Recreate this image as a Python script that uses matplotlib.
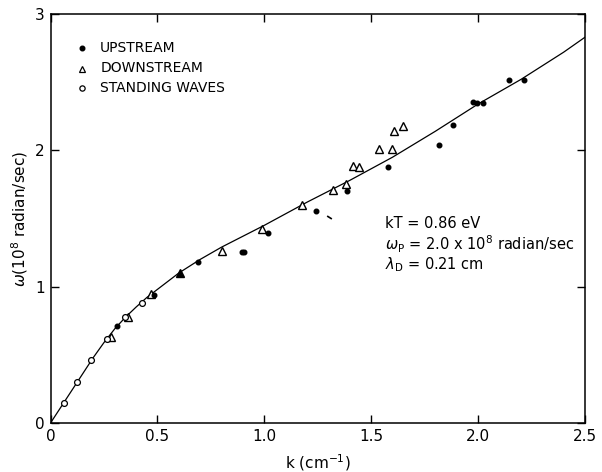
import matplotlib
matplotlib.use("Agg")
import matplotlib.pyplot as plt

# upstream (filled dots)
k_up = [0.312, 0.484, 0.688, 0.895, 0.907, 1.018, 1.244, 1.387, 1.580,
        1.817, 1.881, 1.976, 1.994, 2.022, 2.144, 2.214]
w_up = [0.708, 0.940, 1.180, 1.253, 1.253, 1.394, 1.555, 1.702, 1.875,
        2.040, 2.188, 2.354, 2.349, 2.349, 2.518, 2.518]

# downstream (open triangles)
k_down = [0.281, 0.364, 0.470, 0.803, 0.987, 1.174, 1.319, 1.381, 1.415,
          1.442, 1.538, 1.599, 1.607, 1.647]
w_down = [0.628, 0.779, 0.945, 1.260, 1.420, 1.602, 1.712, 1.751, 1.885,
          1.878, 2.012, 2.007, 2.139, 2.178]

# upstream and downstream on top of each other
k_both = [0.605]
w_both = [1.097]

# standing waves (open circles)
k_sw = [0.062, 0.125, 0.190, 0.263, 0.347, 0.426]
w_sw = [0.147, 0.300, 0.460, 0.615, 0.774, 0.877]

# smudged point
k_smudge = [1.301]
w_smudge = [1.509]

# theory curve
k_th = [0, 0.05, 0.1, 0.15, 0.2, 0.25, 0.3, 0.35, 0.4, 0.45, 0.5, 0.55, 0.6,
        0.65, 0.7, 0.8, 0.9, 1.0, 1.2, 1.4, 1.6, 1.8, 2.0, 2.2, 2.4, 2.5]
w_th = [0, 0.12, 0.24, 0.36, 0.48, 0.59, 0.69, 0.775, 0.85, 0.92, 0.98, 1.04,
        1.10, 1.15, 1.20, 1.29, 1.37, 1.45, 1.62, 1.78, 1.95, 2.14, 2.34,
        2.52, 2.72, 2.83]

fig = plt.figure(figsize=(6.02, 4.72), dpi=100)
ax = fig.add_axes([0.0839, 0.1038, 0.8879, 0.8665])

ax.plot(k_th, w_th, color="black", lw=0.9)
ax.plot(k_down, w_down, ls="none", marker="^", ms=5.5, mfc="white",
        mec="black", mew=1.0)
ax.plot(k_both, w_both, ls="none", marker="^", ms=5.5, mfc="black",
        mec="black", mew=1.0)
ax.plot(k_up, w_up, ls="none", marker="o", ms=3.3, mfc="black", mec="black")
ax.plot(k_sw, w_sw, ls="none", marker="o", ms=4.2, mfc="white", mec="black",
        mew=0.9)
ax.plot(k_smudge, w_smudge, ls="none", marker=(2, 0, 58), ms=4, mec="black",
        mew=1.2)

ax.set_xlim(0, 2.5)
ax.set_ylim(0, 3)
ax.set_xticks([0, 0.5, 1.0, 1.5, 2.0, 2.5])
ax.set_xticklabels(["0", "0.5", "1.0", "1.5", "2.0", "2.5"])
ax.set_yticks([0, 1, 2, 3])
ax.set_yticklabels(["0", "1", "2", "3"])
ax.tick_params(direction="in", length=6, width=1.0, top=True, right=True,
               labelsize=11, pad=4)
for s in ax.spines.values():
    s.set_linewidth(1.1)

ax.set_xlabel(r"k (cm$^{-1}$)", fontsize=11, labelpad=6)
ax.set_ylabel(r"$\omega$(10$^{8}$ radian/sec)", fontsize=11, labelpad=4)

# legend drawn by hand, like the original lettering
tr = ax.transAxes
ax.plot([0.0585], [0.916], transform=tr, marker="o", ms=3.3, color="black")
ax.plot([0.0585], [0.866], transform=tr, marker="^", ms=5, mfc="white",
        mec="black", mew=0.9)
ax.plot([0.0585], [0.818], transform=tr, marker="o", ms=3.8, mfc="white",
        mec="black", mew=0.9)
ax.text(0.093, 0.916, "UPSTREAM", transform=tr, fontsize=10, va="center")
ax.text(0.093, 0.867, "DOWNSTREAM", transform=tr, fontsize=10, va="center")
ax.text(0.093, 0.818, "STANDING WAVES", transform=tr, fontsize=10,
        va="center")

ax.text(0.626, 0.488, "kT = 0.86 eV", transform=tr, fontsize=10.5,
        va="center")
ax.text(0.626, 0.438,
        r"$\omega_{\mathrm{P}}$ = 2.0 x 10$^{8}$ radian/sec",
        transform=tr, fontsize=10.5, va="center")
ax.text(0.626, 0.386, r"$\lambda_{\mathrm{D}}$ = 0.21 cm", transform=tr,
        fontsize=10.5, va="center")

fig.savefig("out.png", dpi=100)
